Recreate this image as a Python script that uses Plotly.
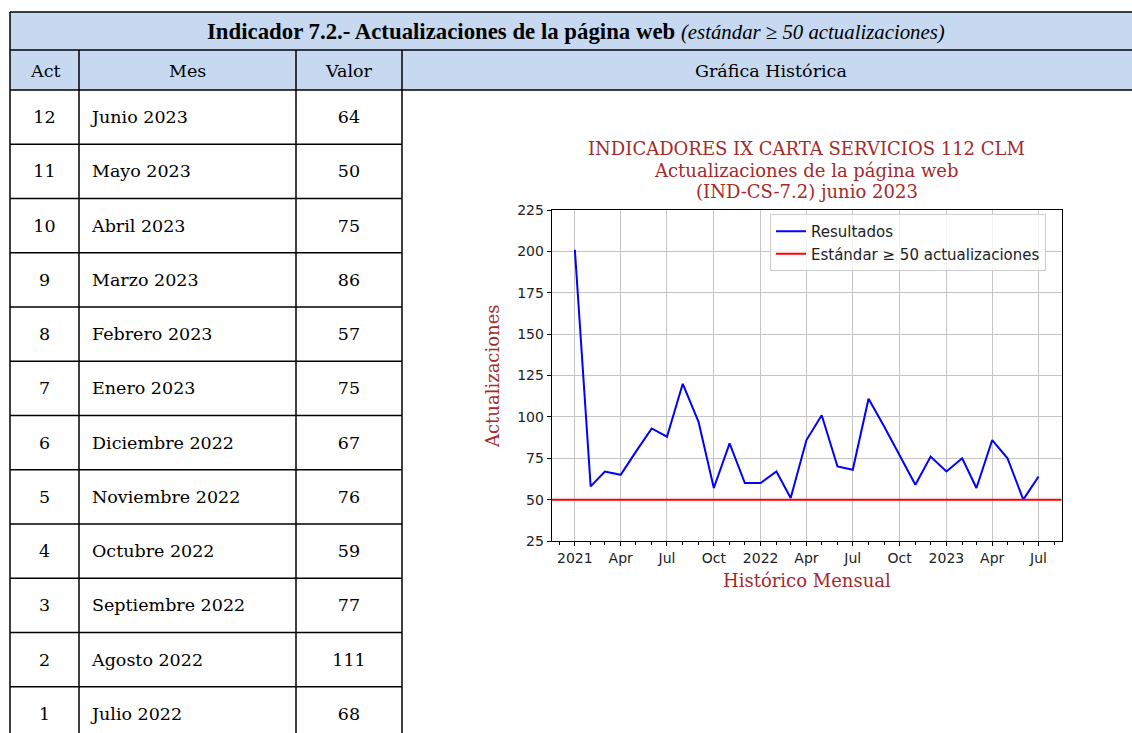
import plotly.graph_objects as go

# ---------------- data ----------------
act = [12, 11, 10, 9, 8, 7, 6, 5, 4, 3, 2, 1]
meses = ["Junio 2023", "Mayo 2023", "Abril 2023", "Marzo 2023", "Febrero 2023", "Enero 2023",
         "Diciembre 2022", "Noviembre 2022", "Octubre 2022", "Septiembre 2022", "Agosto 2022", "Julio 2022"]
valores = [64, 50, 75, 86, 57, 75, 67, 76, 59, 77, 111, 68]

fechas = ["2021-01-01", "2021-02-01", "2021-03-01", "2021-04-01", "2021-05-01", "2021-06-01",
          "2021-07-01", "2021-08-01", "2021-09-01", "2021-10-01", "2021-11-01", "2021-12-01",
          "2022-01-01", "2022-02-01", "2022-03-01", "2022-04-01", "2022-05-01", "2022-06-01",
          "2022-07-01", "2022-08-01", "2022-09-01", "2022-10-01", "2022-11-01", "2022-12-01",
          "2023-01-01", "2023-02-01", "2023-03-01", "2023-04-01", "2023-05-01", "2023-06-01",
          "2023-07-01"]
resultados = [201, 58, 67, 65, 79, 93, 88, 120, 97, 57, 84, 60,
              60, 67, 51, 86, 101, 70, 68, 111, 94, 77, 59, 76,
              67, 75, 57, 86, 75, 50, 64]
estandar = 50

xtick_vals = ["2021-01-01", "2021-04-01", "2021-07-01", "2021-10-01", "2022-01-01", "2022-04-01",
              "2022-07-01", "2022-10-01", "2023-01-01", "2023-04-01", "2023-07-01"]
xtick_text = ["2021", "Apr", "Jul", "Oct", "2022", "Apr", "Jul", "Oct", "2023", "Apr", "Jul"]
x_range = ["2020-11-16 12:00", "2023-08-15 12:00"]

titulo_tabla = "Indicador 7.2.- Actualizaciones de la página web"
subtitulo_tabla = "(estándar ≥ 50 actualizaciones)"
headers = ["Act", "Mes", "Valor", "Gráfica Histórica"]
titulo_graf = ["INDICADORES IX CARTA SERVICIOS 112 CLM", "Actualizaciones de la página web",
               "(IND-CS-7.2) junio 2023"]

# ---------------- layout constants ----------------
W, H = 1132, 733
BROWN = "#a52a2a"
HDR_FILL = "#c6d9f1"
SERIF_TBL = "DejaVu Serif"
TBL_SIZE = 17.5

fig = go.Figure()

# ---------- chart ----------
fig.add_trace(go.Scatter(x=fechas, y=resultados, mode="lines", name="Resultados",
                         line=dict(color="#0000ff", width=2), xaxis="x", yaxis="y"))
fig.add_trace(go.Scatter(x=x_range, y=[estandar, estandar], mode="lines",
                         name="Estándar ≥ 50 actualizaciones",
                         line=dict(color="#ff0000", width=2), xaxis="x", yaxis="y"))

# ---------- table (drawn in a pixel-unit axis pair) ----------
col_x = [10, 79, 296, 402, W]
top, t_sep, h_sep = 12, 50, 90
row_h = 54.25
LW = 1.5

shapes = []
shapes.append(dict(type="rect", xref="x2", yref="y2", x0=col_x[0], x1=col_x[4], y0=top, y1=h_sep,
                   fillcolor=HDR_FILL, line=dict(width=0), layer="below"))
for yy in (top, t_sep, h_sep):
    shapes.append(dict(type="line", xref="x2", yref="y2", x0=col_x[0], x1=col_x[4], y0=yy, y1=yy,
                       line=dict(color="black", width=LW)))
for i in range(1, len(act) + 1):
    yy = h_sep + i * row_h
    shapes.append(dict(type="line", xref="x2", yref="y2", x0=col_x[0], x1=col_x[3], y0=yy, y1=yy,
                       line=dict(color="black", width=LW)))
for k, xx in enumerate(col_x[:4]):
    y0 = top if k == 0 else t_sep
    shapes.append(dict(type="line", xref="x2", yref="y2", x0=xx, x1=xx, y0=y0, y1=H + 20,
                       line=dict(color="black", width=LW)))

row_centers = [h_sep + (i + 0.5) * row_h + 1.5 for i in range(len(act))]
tfont = dict(family=SERIF_TBL, size=TBL_SIZE, color="black")
fig.add_trace(go.Scatter(x=[(col_x[0] + col_x[1]) / 2] * len(act), y=row_centers,
                         text=[str(a) for a in act], mode="text", textposition="middle center",
                         textfont=tfont, xaxis="x2", yaxis="y2", showlegend=False, hoverinfo="skip"))
fig.add_trace(go.Scatter(x=[col_x[1] + 13] * len(act), y=row_centers,
                         text=meses, mode="text", textposition="middle right",
                         textfont=tfont, xaxis="x2", yaxis="y2", showlegend=False, hoverinfo="skip"))
fig.add_trace(go.Scatter(x=[(col_x[2] + col_x[3]) / 2] * len(act), y=row_centers,
                         text=[str(v) for v in valores], mode="text", textposition="middle center",
                         textfont=tfont, xaxis="x2", yaxis="y2", showlegend=False, hoverinfo="skip"))

annotations = []
for k, hdr in enumerate(headers):
    annotations.append(dict(xref="x2", yref="y2", x=(col_x[k] + col_x[k + 1]) / 2 + (4 if k == 3 else 0),
                            y=(t_sep + h_sep) / 2 + 1,
                            text=hdr, showarrow=False, font=dict(family=SERIF_TBL, size=TBL_SIZE, color="black"),
                            xanchor="center", yanchor="middle"))
annotations.append(dict(xref="x2", yref="y2", x=576, y=(top + t_sep) / 2 + 0.5,
                        text="<b>" + titulo_tabla + "</b> <i><span style='font-size:20.8px'>"
                             + subtitulo_tabla + "</span></i>",
                        showarrow=False, font=dict(family="Liberation Serif", size=22.8, color="black"),
                        xanchor="center", yanchor="middle"))

# chart title and axis titles
for j, line in enumerate(titulo_graf):
    annotations.append(dict(xref="paper", yref="paper", x=806.7 / W, y=1 - (148 + 22 * j) / H,
                            text=line, showarrow=False,
                            font=dict(family="DejaVu Serif", size=18, color=BROWN),
                            xanchor="center", yanchor="middle"))
annotations.append(dict(xref="paper", yref="paper", x=492 / W, y=1 - 376 / H, text="Actualizaciones",
                        textangle=-90, showarrow=False,
                        font=dict(family="DejaVu Serif", size=18, color=BROWN),
                        xanchor="center", yanchor="middle"))
annotations.append(dict(xref="paper", yref="paper", x=806.7 / W, y=1 - 580 / H, text="Histórico Mensual",
                        showarrow=False, font=dict(family="DejaVu Serif", size=18, color=BROWN),
                        xanchor="center", yanchor="middle"))

axis_common = dict(showline=True, linecolor="black", linewidth=1, mirror=True,
                   ticks="outside", ticklen=4, tickwidth=1, tickcolor="black",
                   showgrid=True, gridcolor="#c4c4c4", gridwidth=1, zeroline=False,
                   tickfont=dict(family="DejaVu Sans", size=14, color="#222222"))

fig.update_layout(
    width=W, height=H,
    margin=dict(l=0, r=0, t=0, b=0, pad=0, autoexpand=False),
    paper_bgcolor="white", plot_bgcolor="rgba(0,0,0,0)",
    showlegend=True,
    legend=dict(x=770 / W, y=1 - 214 / H, xanchor="left", yanchor="top",
                bgcolor="rgba(255,255,255,0.8)", bordercolor="#cccccc", borderwidth=1,
                font=dict(family="DejaVu Sans", size=15, color="#222222"),
                tracegroupgap=0, itemwidth=30),
    xaxis=dict(domain=[551.7 / W, 1061.7 / W], anchor="y", type="date", range=x_range,
               tickmode="array", tickvals=xtick_vals, ticktext=xtick_text,
               minor=dict(dtick="M1", tick0="2021-01-01", ticks="outside", ticklen=2.5,
                          tickcolor="black", showgrid=False),
               **axis_common),
    yaxis=dict(domain=[1 - 541 / H, 1 - 210 / H], anchor="x", range=[25, 225], dtick=25,
               tick0=25, **axis_common),
    xaxis2=dict(domain=[0, 1], range=[0, W], visible=False, anchor="y2", fixedrange=True),
    yaxis2=dict(domain=[0, 1], range=[H, 0], visible=False, anchor="x2", fixedrange=True),
    shapes=shapes,
    annotations=annotations,
)

fig.write_html("out.html", config={"displayModeBar": False},
               post_script="document.body.style.margin='0';document.body.style.overflow='hidden';")
